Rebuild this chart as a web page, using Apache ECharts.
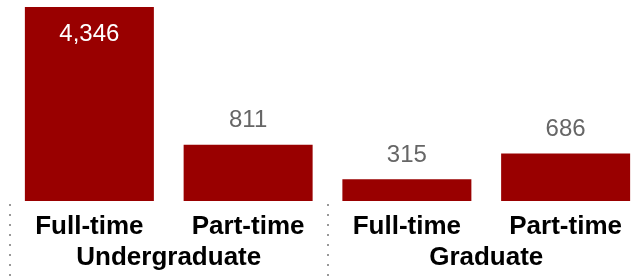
<!DOCTYPE html>
<html lang="en">
<head>
    <meta charset="utf-8">
    <title>Enrollment</title>
    <script src="https://cdn.jsdelivr.net/npm/echarts@6/dist/echarts.min.js"></script>
    <style>
        html, body { margin: 0; padding: 0; background: #fff; }
        #chart { width: 635px; height: 277px; }
    </style>
</head>
<body>
<div id="chart"></div>
<script type="text/javascript">
    // data
    var categories = ['Full-time', 'Part-time', 'Full-time', 'Part-time'];
    var groups = ['Undergraduate', 'Graduate'];
    var values = [4346, 811, 315, 686];

    var yMax = 2800; // the tallest bar runs off the top of the scale

    var myChart = echarts.init(document.getElementById('chart'));

    var barData = values.map(function (v) {
        var item = {value: v};
        if (v > yMax) {
            item.label = {position: 'insideTop', distance: 15, color: '#ffffff'};
        }
        return item;
    });

    var option = {
        animation: false,
        // grid runs past the right edge, like the original
        grid: {left: 10, width: 635, top: 7, bottom: 76, outerBoundsMode: 'none'},
        xAxis: [
            {
                type: 'category',
                data: categories,
                axisLine: {show: false},
                axisTick: {show: false},
                axisLabel: {
                    margin: 13,
                    fontFamily: 'Liberation Sans, Arial, sans-serif',
                    fontWeight: 'bold',
                    fontSize: 26,
                    color: '#000'
                }
            },
            {
                type: 'category',
                position: 'bottom',
                data: groups,
                offset: 3,
                axisLine: {show: false},
                axisTick: {
                    show: true,
                    length: 74,
                    lineStyle: {color: '#999', width: 2, type: [2, 8]}
                },
                axisLabel: {
                    margin: 41,
                    fontFamily: 'Liberation Sans, Arial, sans-serif',
                    fontWeight: 'bold',
                    fontSize: 26,
                    color: '#000'
                }
            }
        ],
        yAxis: {
            type: 'value',
            min: 0,
            max: yMax,
            show: false
        },
        series: [{
            type: 'bar',
            data: barData,
            barWidth: 129,
            clip: true,
            itemStyle: {color: '#990000'},
            label: {
                show: true,
                position: 'top',
                distance: 12,
                fontFamily: 'Liberation Sans, Arial, sans-serif',
                fontSize: 24,
                color: '#666666',
                formatter: function (p) {
                    return p.value.toLocaleString('en-US');
                }
            }
        }]
    };

    myChart.setOption(option);
</script>
</body>
</html>
